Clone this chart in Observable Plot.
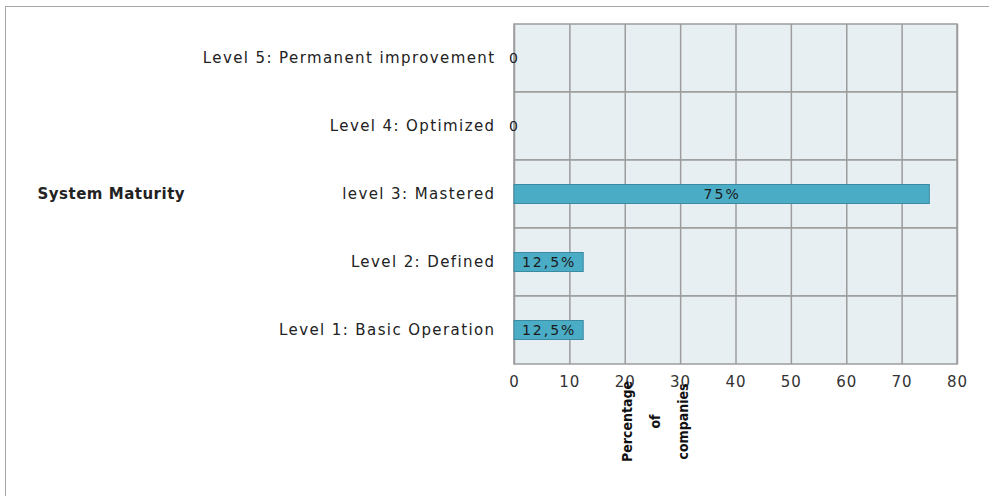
<!DOCTYPE html>
<html>
<head>
<meta charset="utf-8">
<script src="https://cdn.jsdelivr.net/npm/d3@7"></script>
<script src="https://cdn.jsdelivr.net/npm/@observablehq/plot@0.6"></script>
<style>
  html, body { margin: 0; padding: 0; background: #fff; overflow: hidden; }
  #frame { position: absolute; left: 5px; top: 6px; width: 1200px; height: 700px; border: 1.5px solid #a6a6a6; box-sizing: border-box; }
  #chart { position: absolute; left: 0; top: 0; }
  g[aria-label="y-axis tick label"] text { letter-spacing: 1.4px; }
  g[aria-label="x-axis tick label"] text { letter-spacing: 1px; }
</style>
</head>
<body>
<div id="frame"></div>
<div id="chart"></div>
<script>
const categories = ["Level 5: Permanent improvement", "Level 4: Optimized", "level 3: Mastered", "Level 2: Defined", "Level 1: Basic Operation"];
const values = [0, 0, 75, 12.5, 12.5];
const valueLabels = ["0", "0", "75%", "12,5%", "12,5%"];
const xTicks = [0, 10, 20, 30, 40, 50, 60, 70, 80];
const yTitle = "System Maturity";
const xTitle = "Percentage\nof\ncompanies";

const data = categories.map((c, i) => ({category: c, value: values[i], label: valueLabels[i]}));
const bars = data.filter(d => d.value > 0);

const font = "DejaVu Sans, Verdana, sans-serif";

const chart = Plot.plot({
  width: 989,
  height: 496,
  marginLeft: 514,
  marginRight: 32,
  marginTop: 24,
  marginBottom: 132,
  style: {fontFamily: font, fontSize: "13px", color: "#333", background: "transparent", overflow: "visible"},
  x: {domain: [0, 80], ticks: xTicks, tickSize: 0, tickPadding: 12, label: null},
  y: {domain: categories, padding: 0, tickSize: 0, tickPadding: 20, label: null},
  marks: [
    Plot.barX(categories, {y: d => d, x1: 0, x2: 80, fill: "#e8eff3", stroke: "#9c9c9c", strokeWidth: 1.5}),
    Plot.ruleX(xTicks, {x: d => d, stroke: "#9c9c9c", strokeWidth: 1.5}),
    Plot.barX(bars, {y: "category", x1: 0, x2: "value", fill: "#4bacc6", stroke: "#3a8aa2", strokeWidth: 1, insetTop: 24.5, insetBottom: 24.5}),
    Plot.text(data, {y: "category", x: d => d.value / 2, text: "label", fill: "#1a1a1a", fontSize: 14}),
    Plot.axisY({tickSize: 0, tickPadding: 19, fontSize: 15, fill: "#222"}),
    Plot.axisX({ticks: xTicks, tickSize: 0, tickPadding: 12, fontSize: 15, fill: "#333"}),
    Plot.text([yTitle], {y: () => categories[2], frameAnchor: "left", textAnchor: "start", dx: -477, fontWeight: "bold", fontSize: 15, fill: "#222"}),
    Plot.text([xTitle], {x: () => 31.3, frameAnchor: "bottom", dy: 57, rotate: -90, lineHeight: 2, fontWeight: "bold", fontSize: 14, fill: "#111", fontFamily: "Liberation Sans Narrow, DejaVu Sans Condensed, sans-serif"})
  ]
});
const textGroups = d3.select(chart).selectAll('g[aria-label="text"]').nodes();
if (textGroups[0]) textGroups[0].style.letterSpacing = "2px";
if (textGroups[1]) textGroups[1].style.letterSpacing = "0.5px";
document.getElementById("chart").appendChild(chart);
</script>
</body>
</html>
